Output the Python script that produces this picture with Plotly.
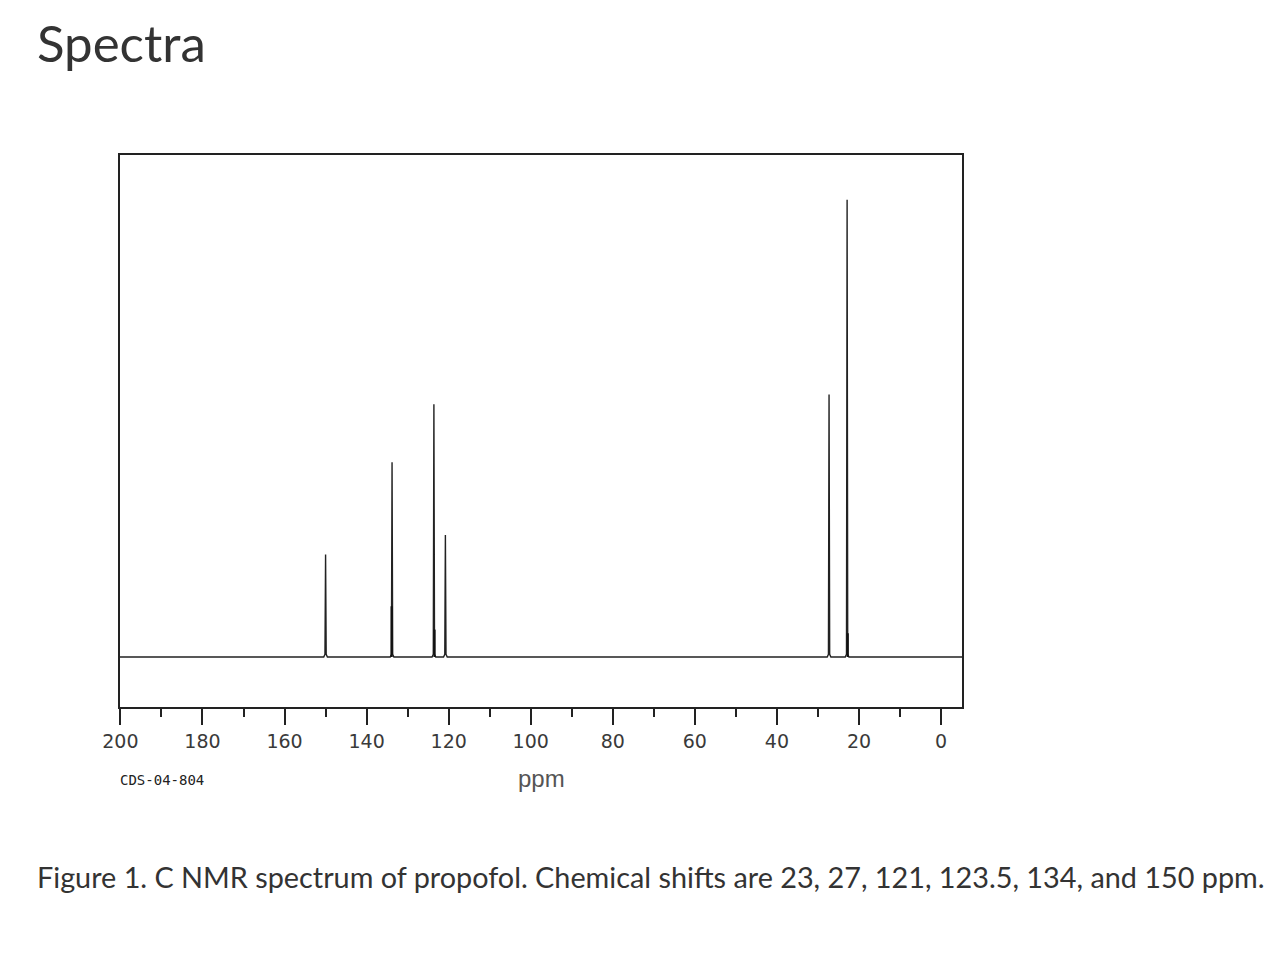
import plotly.graph_objects as go

# ---- data ----
shifts_ppm = [150.0, 133.8, 123.6, 120.8, 27.3, 22.9]        # main lines
heights = [22.4, 42.6, 55.3, 26.7, 57.4, 100.0]              # relative intensity
shoulder_ppm = [133.9, 123.45, 22.75]                        # close partner lines
shoulder_heights = [11.1, 6.0, 5.2]
major_ticks = [200, 180, 160, 140, 120, 100, 80, 60, 40, 20, 0]
tick_labels = [str(t) for t in major_ticks]

X_LEFT, X_RIGHT = 200.1, -5.1
FOOT = 0.6        # small bump at each line's base (style)
HALF = 0.45       # half width of that bump, ppm (style)

# build the spectrum trace: baseline with a spike for each line
xs, ys = [X_LEFT], [0.0]
for s, h in sorted(zip(shifts_ppm, heights), key=lambda p: -p[0]):
    xs += [s + HALF, s + HALF / 3, s, s - HALF / 3, s - HALF]
    ys += [0.0, FOOT, h, FOOT, 0.0]
xs.append(X_RIGHT)
ys.append(0.0)

sx, sy = [], []
for s, h in zip(shoulder_ppm, shoulder_heights):
    sx += [s, s, None]
    sy += [0.0, h, None]

fig = go.Figure()
fig.add_trace(go.Scatter(x=xs, y=ys, mode="lines",
                         line=dict(color="#222222", width=1.4),
                         hoverinfo="skip", showlegend=False))
fig.add_trace(go.Scatter(x=sx, y=sy, mode="lines",
                         line=dict(color="#111111", width=2.2),
                         hoverinfo="skip", showlegend=False))

# page has an 8 px body margin; positions below are in figure pixels
OFF = 8
W, H = 1288, 962
L, T = 120 - OFF, 155 - OFF
PW, PH = 842, 552
R, B = W - L - PW, H - T - PH


def px(x):
    return (x - OFF - L) / PW


def py(y):
    return (T + PH - (y - OFF)) / PH


fig.update_layout(
    width=W, height=H,
    margin=dict(l=L, r=R, t=T, b=B),
    paper_bgcolor="white", plot_bgcolor="white",
    xaxis=dict(range=[X_LEFT, X_RIGHT], showgrid=False, zeroline=False,
               showline=True, mirror=True, linecolor="#222222", linewidth=1.5,
               ticks="outside", ticklen=16, tickwidth=1.5, tickcolor="#222222",
               tickvals=major_ticks, ticktext=tick_labels,
               tickfont=dict(family="DejaVu Sans", size=19, color="#3a3a3a"),
               minor=dict(dtick=10, tick0=0, ticks="outside", ticklen=8,
                          tickwidth=1.5, tickcolor="#222222", showgrid=False)),
    yaxis=dict(range=[-10.93, 109.8], showgrid=False, zeroline=False,
               showline=True, mirror=True, linecolor="#222222", linewidth=1.5,
               showticklabels=False, ticks=""),
    annotations=[
        dict(text="Spectra", xref="paper", yref="paper", x=px(35), y=py(42),
             xanchor="left", yanchor="middle", showarrow=False,
             font=dict(family="Lato", size=51, color="#333333")),
        dict(text="ppm", xref="paper", yref="paper", x=px(541), y=py(778),
             xanchor="center", yanchor="middle", showarrow=False,
             font=dict(family="Liberation Sans", size=24, color="#555555")),
        dict(text="CDS-04-804", xref="paper", yref="paper", x=px(118), y=py(780),
             xanchor="left", yanchor="middle", showarrow=False,
             font=dict(family="DejaVu Sans Mono", size=14, color="#222222")),
        dict(text="Figure 1. C NMR spectrum of propofol. Chemical shifts are 23, 27, 121, 123.5, 134, and 150 ppm.",
             xref="paper", yref="paper", x=px(35), y=py(877),
             xanchor="left", yanchor="middle", showarrow=False,
             font=dict(family="Lato", size=28.8, color="#333333")),
    ],
)

fig.write_html("out.html")
